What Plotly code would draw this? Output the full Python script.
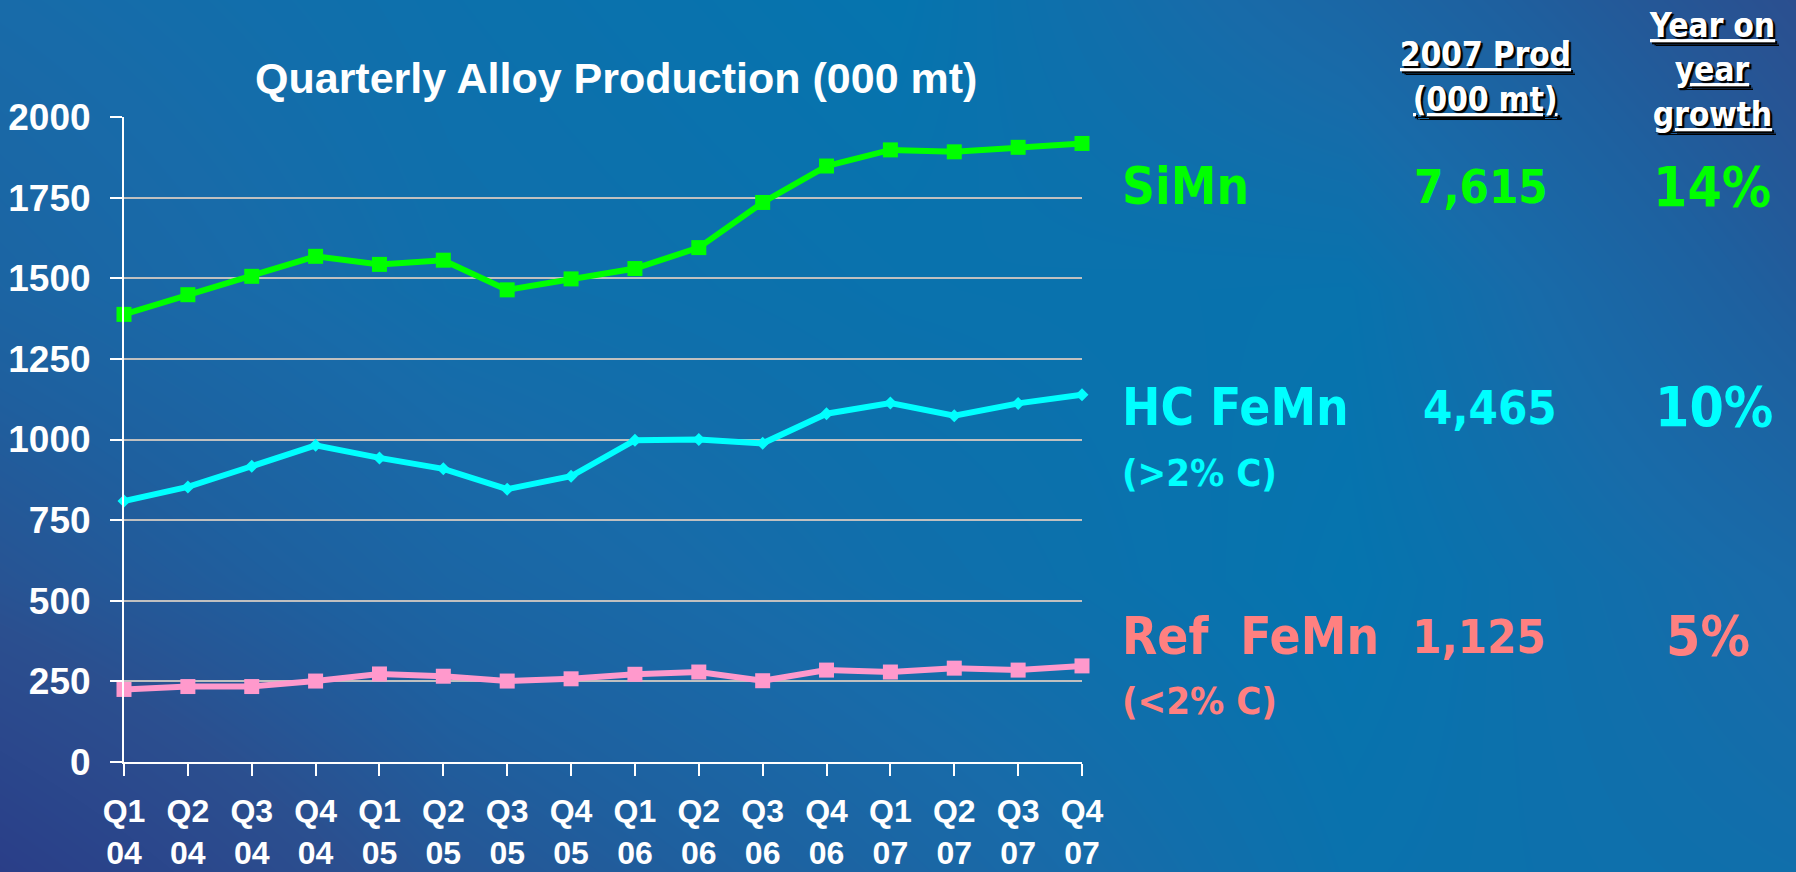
import plotly.graph_objects as go

# quarter labels and production (000 mt)
quarters = ["Q1<br>04", "Q2<br>04", "Q3<br>04", "Q4<br>04",
            "Q1<br>05", "Q2<br>05", "Q3<br>05", "Q4<br>05",
            "Q1<br>06", "Q2<br>06", "Q3<br>06", "Q4<br>06",
            "Q1<br>07", "Q2<br>07", "Q3<br>07", "Q4<br>07"]
simn = [1388, 1449, 1506, 1568, 1543, 1556, 1464, 1498,
        1530, 1595, 1735, 1848, 1898, 1892, 1906, 1918]
hc_femn = [809, 853, 917, 982, 943, 909, 846, 886,
           998, 1000, 988, 1080, 1113, 1074, 1112, 1139]
ref_femn = [225, 234, 234, 251, 273, 266, 251, 258,
            272, 279, 252, 285, 279, 291, 285, 298]

y_ticks = [0, 250, 500, 750, 1000, 1250, 1500, 1750, 2000]

# side table
alloy_names = ["SiMn", "HC FeMn", "Ref  FeMn"]
alloy_notes = ["", "(>2% C)", "(<2% C)"]
prod_2007 = ["7,615", "4,465", "1,125"]
yoy_growth = ["14%", "10%", "5%"]

# background shading (0 = navy, 1 = bright blue)
bg_x = [0, 450, 900, 1350, 1796]
bg_y = [0, 290, 580, 872]
bg_shade = [[0.80, 0.92, 1.00, 0.72, 0.35],
            [0.68, 0.88, 0.95, 0.97, 0.55],
            [0.42, 0.70, 0.88, 1.00, 0.78],
            [0.00, 0.45, 0.70, 0.95, 0.88]]

W, H = 1796, 872
GREEN, CYAN, PINK, SALMON = "#00FF00", "#00FFFF", "#FF99CC", "#FF8080"
ARIAL = "Liberation Sans, Arial, sans-serif"
NARROW = "DejaVu Sans Condensed, sans-serif"

fig = go.Figure()

fig.add_trace(go.Heatmap(
    x=bg_x, y=bg_y, z=bg_shade, zmin=0, zmax=1, zsmooth="best",
    colorscale=[[0, "#2A3E88"], [0.35, "#2B4F8F"], [0.6, "#1E609F"],
                [0.8, "#186BA9"], [1, "#0574AE"]],
    showscale=False, hoverinfo="skip", xaxis="x", yaxis="y"))

fig.add_trace(go.Scatter(
    x=quarters, y=ref_femn, mode="lines+markers", name="Ref FeMn",
    line=dict(color=PINK, width=6),
    marker=dict(symbol="square", size=15, color=PINK),
    cliponaxis=False, xaxis="x2", yaxis="y2"))
fig.add_trace(go.Scatter(
    x=quarters, y=hc_femn, mode="lines+markers", name="HC FeMn",
    line=dict(color=CYAN, width=6),
    marker=dict(symbol="diamond", size=10, color=CYAN),
    cliponaxis=False, xaxis="x2", yaxis="y2"))
fig.add_trace(go.Scatter(
    x=quarters, y=simn, mode="lines+markers", name="SiMn",
    line=dict(color=GREEN, width=6),
    marker=dict(symbol="square", size=15, color=GREEN),
    cliponaxis=False, xaxis="x2", yaxis="y2"))


def px(x, y):
    return x / W, 1 - y / H


ann = []
tx, ty = px(616, 78)
ann.append(dict(x=tx, y=ty, text="Quarterly Alloy Production (000 mt)",
                font=dict(family=ARIAL, size=43, color="white", weight="bold")))

head = dict(family=NARROW, size=33, color="white", weight="bold",
            lineposition="under", shadow="2px 2px 1px #000000")
for txt, cx, cy in [("2007 Prod", 1485, 54), ("(000 mt)", 1485, 99),
                    ("Year on", 1712, 25), ("year", 1712, 69), ("growth", 1712, 114)]:
    x, y = px(cx, cy)
    ann.append(dict(x=x, y=y, text=txt, font=head))

row_y = [187, 407, 636]
note_y = [None, 473, 701]
row_col = [GREEN, CYAN, SALMON]
prod_x = [1481, 1490, 1479]
grow_x = [1712, 1714, 1708]
for i in range(3):
    name_font = dict(family=NARROW, size=51, color=row_col[i], weight="bold")
    num_font = dict(family=NARROW, size=47, color=row_col[i], weight="bold")
    pct_font = dict(family=NARROW, size=55, color=row_col[i], weight="bold")
    x, y = px(1120, row_y[i])
    ann.append(dict(x=x, y=y, text=alloy_names[i], xanchor="left", font=name_font))
    x, y = px(prod_x[i], row_y[i])
    ann.append(dict(x=x, y=y, text=prod_2007[i], font=num_font))
    x, y = px(grow_x[i], row_y[i])
    ann.append(dict(x=x, y=y, text=yoy_growth[i], font=pct_font))
    if alloy_notes[i]:
        x, y = px(1120, note_y[i])
        ann.append(dict(x=x, y=y, text=alloy_notes[i], xanchor="left",
                        font=dict(family=NARROW, size=38, color=row_col[i], weight="bold")))

for a in ann:
    a.update(xref="paper", yref="paper", showarrow=False,
             xanchor=a.get("xanchor", "center"), yanchor="middle")

fig.update_layout(
    width=W, height=H, margin=dict(l=0, r=0, t=0, b=0, autoexpand=False),
    paper_bgcolor="#0B6FAA", plot_bgcolor="rgba(0,0,0,0)",
    showlegend=False, annotations=ann,
    xaxis=dict(domain=[0, 1], range=[0, W], visible=False, fixedrange=True,
               automargin=False),
    yaxis=dict(domain=[0, 1], range=[H, 0], visible=False, fixedrange=True,
               automargin=False),
    xaxis2=dict(domain=[124 / W, 1082 / W], anchor="y2", type="category",
                range=[0, 15], showgrid=False, showline=True, linecolor="white",
                linewidth=2, ticks="outside", ticklen=12, tickwidth=2,
                tickcolor="white", ticklabelstandoff=8, automargin=False,
                tickfont=dict(family=ARIAL, size=32, color="white", weight="bold")),
    yaxis2=dict(domain=[1 - 762 / H, 1 - 117 / H], anchor="x2", range=[0, 2000],
                tickvals=y_ticks, showgrid=True, gridcolor="#C0C0C0", gridwidth=2,
                zeroline=False, showline=True, linecolor="white", linewidth=2,
                ticks="outside", ticklen=12, tickwidth=2, tickcolor="white",
                ticklabelstandoff=12, automargin=False,
                tickfont=dict(family=ARIAL, size=37, color="white", weight="bold")),
    shapes=[dict(type="line", xref="x2 domain", yref="y2 domain",
                 x0=1, x1=1, y0=0, y1=1, layer="below",
                 line=dict(color="#C0C0C0", width=2))],
)

fig.write_html("out.html", config={"displayModeBar": False},
               post_script="document.body.style.margin = '0';")
